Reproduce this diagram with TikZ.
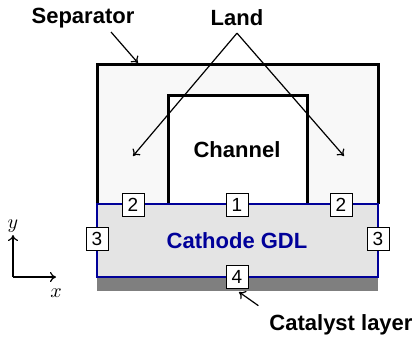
\documentclass[tikz,border=0pt]{standalone}
\usepackage{fontspec}
\usepackage{xcolor}
\usepackage{tikz}
\usetikzlibrary{arrows.meta}
\newfontfamily\arialfont{Liberation Sans}
\definecolor{sepbg}{HTML}{f8f8f8}
\definecolor{gdlbg}{HTML}{e4e4e4}
\definecolor{gdlblue}{HTML}{000099}
\definecolor{clgray}{HTML}{7f7f7f}
\tikzset{
  tag/.style={font=\arialfont\bfseries\fontsize{11}{13}\selectfont},
  numbox/.style={draw, fill=white, line width=0.5pt, minimum width=11pt, minimum height=11.5pt,
    inner sep=0pt, font=\arialfont\fontsize{9.5}{10}\selectfont},
  pointer/.style={line width=0.6pt, -{To[length=3pt,width=5pt]}}
}

\begin{document}
\begin{tikzpicture}[x=0.5pt, y=-0.5pt]
  \useasboundingbox (0,0) rectangle (415,342);

  % Separator with land and channel
  \draw[line width=1.5pt, fill=sepbg] (97,204) -- (97,64) -- (378,64) -- (378,204);
  \draw[line width=1.5pt, fill=white] (168,204) -- (168,95) -- (307,95) -- (307,204);
  \node[tag] (channel) at (237,150) {Channel};

  % Catalyst layer and GDL
  \fill[clgray] (97,277) rectangle (378,291);
  \draw[line width=1.2pt, draw=gdlblue, fill=gdlbg] (97,204) rectangle (378,277);
  \node[tag, text=gdlblue] (gdl) at (237,241) {Cathode GDL};

  % Boundary numbers
  \node[numbox] (b1) at (237,205) {1};
  \node[numbox] (b2l) at (133,205) {2};
  \node[numbox] (b2r) at (341,205) {2};
  \node[numbox] (b3l) at (97,239) {3};
  \node[numbox] (b3r) at (378,239) {3};
  \node[numbox] (b4) at (237,277) {4};

  % Labels with pointers
  \node[tag] (sep) at (83,18) {Separator};
  \coordinate (septop) at (138,63);
  \draw[pointer] (111,32) -- (septop);

  \node[tag] (land) at (237,18) {Land};
  \coordinate (landl) at (133,156);
  \coordinate (landr) at (344,156);
  \draw[pointer] (land.south) -- (landl);
  \draw[pointer] (land.south) -- (landr);

  \node[tag] (cl) at (341,325) {Catalyst layer};
  \coordinate (clpt) at (239,292);
  \draw[pointer] (cl.north west) ++(-4,-2) -- (clpt);

  % Axes
  \coordinate (origin) at (13,277);
  \draw[pointer] (origin) -- (13,235) node[above, inner sep=1pt] (ylab) {$y$};
  \draw[pointer] (origin) -- (56,277);
  \node (xlab) at (56,293) {$x$};
\end{tikzpicture}
\end{document}
